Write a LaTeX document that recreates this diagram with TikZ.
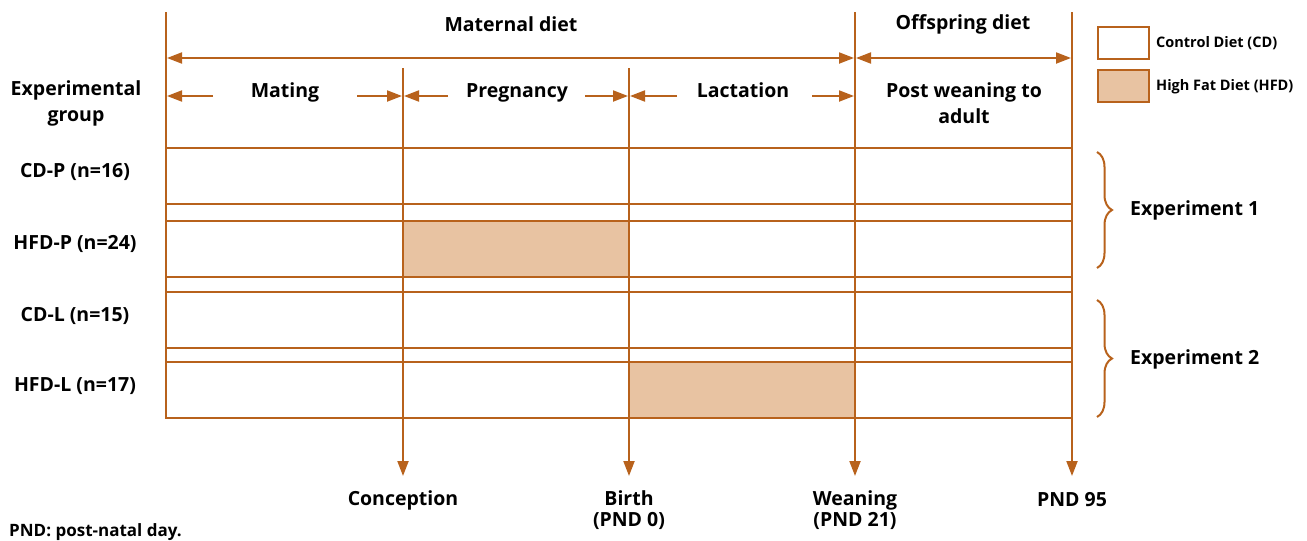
\documentclass[tikz,border=0pt]{standalone}
\usepackage{fontspec}
\setmainfont{Open Sans}
\usetikzlibrary{arrows.meta,decorations.pathreplacing}
\definecolor{brn}{RGB}{184,98,28}
\definecolor{hfd}{RGB}{232,195,162}
\begin{document}
\begin{tikzpicture}[x=1pt,y=-1pt,
 ln/.style={draw=brn,line width=2pt},
 arr/.style={ln,-{Triangle[length=15pt,width=11pt]}},
 darr/.style={ln,{Triangle[length=15pt,width=11pt]}-{Triangle[length=15pt,width=11pt]}},
 lbl/.style={font=\fontsize{19.5}{26}\selectfont\bfseries,align=center,inner sep=0pt},
 blbl/.style={font=\fontsize{19.5}{21}\selectfont\bfseries,align=center,inner sep=0pt},
 leg/.style={font=\fontsize{14.5}{16}\selectfont\bfseries,anchor=west,inner sep=0pt},
 rowbox/.style={ln,minimum width=906pt,minimum height=56pt,anchor=north west,inner sep=0pt,outer sep=0pt},
 fillbox/.style={fill=hfd,minimum width=226pt,minimum height=56pt,anchor=north west,inner sep=0pt,outer sep=0pt},
 legbox/.style={draw=brn,line width=2pt,minimum width=51pt,minimum height=32pt,anchor=north west,inner sep=0pt},
 brc/.style={draw=brn,line width=2pt,decorate,decoration={brace,amplitude=15pt}},
]
\useasboundingbox (0,0) rectangle (1307,541);
% fills
\node[fillbox] (f1) at (403,221) {};
\node[fillbox] (f2) at (629,362) {};
% rows
\node[rowbox] (r1) at (166,148) {};
\node[rowbox] (r2) at (166,221) {};
\node[rowbox] (r3) at (166,292) {};
\node[rowbox] (r4) at (166,362) {};
% vertical lines
\coordinate (v0t) at (166,12); \coordinate (v0b) at (166,418);
\coordinate (v1t) at (403,68); \coordinate (v1b) at (403,476);
\coordinate (v2t) at (629,68); \coordinate (v2b) at (629,476);
\coordinate (v3t) at (855,12); \coordinate (v3b) at (855,476);
\coordinate (v4t) at (1072,12); \coordinate (v4b) at (1072,476);
\draw[ln] (v0t) -- (v0b);
\draw[arr] (v1t) -- (v1b);
\draw[arr] (v2t) -- (v2b);
\draw[arr] (v3t) -- (v3b);
\draw[arr] (v4t) -- (v4b);
% top arrows
\coordinate (m1) at (167,58); \coordinate (m2) at (854,58);
\coordinate (o1) at (856,58); \coordinate (o2) at (1071,58);
\draw[darr] (m1) -- (m2);
\draw[darr] (o1) -- (o2);
% period arrows
\coordinate (pa1) at (213,96); \coordinate (pa2) at (167,96);
\coordinate (pa3) at (357,96); \coordinate (pa4) at (402,96);
\coordinate (pb1) at (448,96); \coordinate (pb2) at (404,96);
\coordinate (pb3) at (585,96); \coordinate (pb4) at (628,96);
\coordinate (pc1) at (677,96); \coordinate (pc2) at (630,96);
\coordinate (pc3) at (812,96); \coordinate (pc4) at (854,96);
\draw[arr] (pa1) -- (pa2); \draw[arr] (pa3) -- (pa4);
\draw[arr] (pb1) -- (pb2); \draw[arr] (pb3) -- (pb4);
\draw[arr] (pc1) -- (pc2); \draw[arr] (pc3) -- (pc4);
% top labels
\node[lbl] (tmat) at (511,24) {Maternal diet};
\node[lbl] (toff) at (963,24) {Offspring diet};
\node[lbl,anchor=base] (tmating) at (285,97) {Mating};
\node[lbl,anchor=base] (tpreg) at (517,97) {Pregnancy};
\node[lbl,anchor=base] (tlact) at (743,97) {Lactation};
\node[lbl] (tpost) at (964,103) {Post weaning to\\adult};
\node[lbl] (texp) at (76,103) {Experimental\\group};
% group labels
\node[lbl] (g1) at (75,172) {CD-P (n=16)};
\node[lbl] (g2) at (75,244) {HFD-P (n=24)};
\node[lbl] (g3) at (75,316) {CD-L (n=15)};
\node[lbl] (g4) at (75,386) {HFD-L (n=17)};
% bottom labels
\node[blbl] (bcon) at (403,500) {Conception};
\node[blbl] (bbir) at (629,510) {Birth\\(PND 0)};
\node[blbl] (bwea) at (855,510) {Weaning\\(PND 21)};
\node[blbl] (bpnd) at (1072,500) {PND 95};
\node[lbl,font=\fontsize{17}{18}\selectfont\bfseries,anchor=west] (note) at (9,532) {PND: post-natal day.};
% legend
\node[legbox] (lcd) at (1097,26) {};
\node[legbox,fill=hfd] (lhfd) at (1097,69) {};
\node[leg] (lcdt) at (1156,43) {Control Diet (CD)};
\node[leg] (lhfdt) at (1156,87) {High Fat Diet (HFD)};
% braces
\coordinate (b1t) at (1097,152); \coordinate (b1b) at (1097,268);
\coordinate (b2t) at (1097,300); \coordinate (b2b) at (1097,417);
\draw[brc] (b1t) -- (b1b);
\draw[brc] (b2t) -- (b2b);
\node[lbl,anchor=west] (e1) at (1130,210) {Experiment 1};
\node[lbl,anchor=west] (e2) at (1130,359) {Experiment 2};
\end{tikzpicture}
\end{document}
